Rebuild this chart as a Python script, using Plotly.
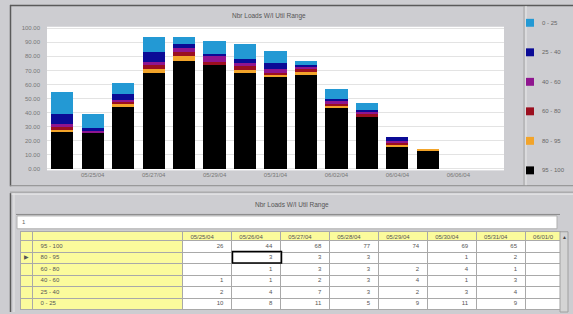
import plotly.graph_objects as go

W, H = 573, 314

# ---- data ----
dates = ["05/24/04", "05/25/04", "05/26/04", "05/27/04", "05/28/04", "05/29/04",
         "05/30/04", "05/31/04", "06/01/04", "06/02/04", "06/03/04", "06/04/04",
         "06/05/04", "06/06/04", "06/07/04"]
bar_dates = dates[:13]
tick_dates = ["05/25/04", "05/27/04", "05/29/04", "05/31/04", "06/02/04", "06/04/04", "06/06/04"]

r95_100 = [26, 26, 44, 68, 77, 74, 69, 65, 67, 43, 37, 16, 13]
r80_95 = [2, 0, 3, 3, 3, 0, 1, 2, 2, 2, 0, 1, 1]
r60_80 = [2, 0, 1, 3, 3, 2, 4, 1, 2, 1, 2, 2, 0]
r40_60 = [2, 1, 1, 2, 3, 4, 1, 3, 2, 2, 2, 1, 0]
r25_40 = [7, 2, 4, 7, 3, 2, 3, 4, 1, 2, 1, 3, 0]
r0_25 = [16, 10, 8, 11, 5, 9, 11, 9, 3, 7, 5, 0, 0]

range_labels = ["95 - 100", "80 - 95", "60 - 80", "40 - 60", "25 - 40", "0 - 25"]
range_colors = ["#000000", "#f2a42a", "#9b0f1f", "#8f158f", "#0b0b96", "#2399d4"]
range_values = [r95_100, r80_95, r60_80, r40_60, r25_40, r0_25]

title_text = "Nbr Loads W/I Util Range"
table_dates = dates[1:9]          # columns visible in the grid
table_header_labels = ["05/25/04", "05/26/04", "05/27/04", "05/28/04",
                       "05/29/04", "05/30/04", "05/31/04", "06/01/0"]

# ---- helpers ----
def px(x):
    return x / W

def py(y):
    return 1 - y / H

BG = "#cdcdd1"
YELLOW = "#fbfb9c"
GRID_LINE = "#a9a9a9"
CLEAR = "rgba(0,0,0,0)"

fig = go.Figure()

# stacked bars (bottom to top)
for name, vals, col in zip(range_labels, range_values, range_colors):
    fig.add_trace(go.Bar(
        x=bar_dates, y=vals, name=name,
        marker=dict(color=col, line=dict(width=0)),
        showlegend=False, hoverinfo="x+y+name",
    ))

# ---- table ----
n_rows = len(range_labels)
n_cols = 2 + len(table_dates)
sel_col = ["", "\u25b6", "", "", "", ""]
cols = [sel_col, range_labels]
for d in table_dates:
    i = dates.index(d)
    if d == "06/01/04":
        cols.append([""] * n_rows)   # scrolled out of view
    else:
        cols.append([("" if v[i] == 0 else str(v[i])) for v in range_values])

fills = [[YELLOW] * n_rows, [YELLOW] * n_rows] + [["white"] * n_rows] * len(table_dates)
colw = [12.6, 150, 49, 49, 49, 49, 49, 49, 49, 35]
tfont = dict(size=6, color="#555", family="Arial, Liberation Sans")

# grid (fills and lines)
fig.add_trace(go.Table(
    domain=dict(x=[px(20), px(560)], y=[0, py(233)]),
    columnwidth=colw,
    header=dict(values=[""] * n_cols, fill_color=YELLOW, line_color=GRID_LINE,
                line_width=1, font=tfont, height=9),
    cells=dict(values=[[""] * n_rows] * n_cols, fill_color=fills,
               line_color=GRID_LINE, line_width=1, font=tfont, height=11.5),
    hoverinfo="skip",
))
# text layer of the same grid
fig.add_trace(go.Table(
    domain=dict(x=[px(20), px(560)], y=[0, py(227.5)]),
    columnwidth=colw,
    header=dict(values=["", ""] + table_header_labels, fill_color=CLEAR,
                line_color=CLEAR, line_width=0, font=tfont, height=9, align="left"),
    cells=dict(values=cols, fill_color=CLEAR, line_color=CLEAR, line_width=0,
               font=tfont, height=11.5,
               align=["center", "left"] + ["right"] * len(table_dates)),
))

shapes = []
def line(x0, y0, x1, y1, color, width=1):
    shapes.append(dict(type="line", xref="paper", yref="paper",
                       x0=px(x0), y0=py(y0), x1=px(x1), y1=py(y1),
                       line=dict(color=color, width=width)))

def rect(x0, y0, x1, y1, fill, lc=None, lw=0, layer="above"):
    shapes.append(dict(type="rect", xref="paper", yref="paper",
                       x0=px(x0), y0=py(y0), x1=px(x1), y1=py(y1),
                       fillcolor=fill, layer=layer,
                       line=dict(color=lc or fill, width=lw)))

# top panel frame
line(10, 4.5, 573, 4.5, "#5a5a5a", 1.5)
line(10.5, 4, 10.5, 187, "#5a5a5a", 1.5)
line(10, 186.5, 573, 186.5, "#8c8c8c", 1)
line(524, 5, 524, 186, "#a4a4a4", 1)
line(526, 5, 526, 186, "#e8e8e8", 1)
# separator
line(10, 193, 573, 193, "#9a9a9a", 1)
line(10, 195, 573, 195, "#ececec", 1)
# table panel
line(10.5, 194, 10.5, 314, "#5a5a5a", 1.5)
line(14, 194, 14, 314, "#e8e8e8", 1)
line(16, 215.5, 560, 215.5, "#8a8a8a", 1)
rect(17, 217, 557, 230, "white", "#b0b0b0", 1)
# scrollbar
rect(560, 233, 568, 314, "#d4d4d4", "#a0a0a0", 1)
# selected cell
rect(232.5, 253, 281.5, 264.5, CLEAR, "#000000", 1.5)

annotations = [
    dict(text=title_text, x=px(269), y=py(15), xref="paper", yref="paper",
         showarrow=False, font=dict(size=6.5, color="#555"), xanchor="center", yanchor="middle"),
    dict(text=title_text, x=px(292), y=py(206), xref="paper", yref="paper",
         showarrow=False, font=dict(size=6.5, color="#555"), xanchor="center", yanchor="middle"),
    dict(text="1", x=px(20), y=py(223.5), xref="paper", yref="paper",
         showarrow=False, font=dict(size=6, color="#666"), xanchor="left", yanchor="middle"),
    dict(text="\u25b2", x=px(564), y=py(238), xref="paper", yref="paper",
         showarrow=False, font=dict(size=5, color="#444"), xanchor="center", yanchor="middle"),
]

# legend (top to bottom: 0-25 ... 95-100)
for k, (name, col) in enumerate(zip(range_labels[::-1], range_colors[::-1])):
    cy = 22 + k * 29.8
    rect(526, cy - 4, 534, cy + 4, col, col, 0)
    annotations.append(dict(text=name, x=px(540), y=py(cy), xref="paper", yref="paper",
                            showarrow=False, font=dict(size=6, color="#666"),
                            xanchor="left", yanchor="middle"))

fig.update_layout(
    width=W, height=H,
    margin=dict(l=0, r=0, t=0, b=0),
    paper_bgcolor=BG, plot_bgcolor="white",
    barmode="stack", bargap=0.27,
    showlegend=False,
    font=dict(family="Arial, Liberation Sans, sans-serif", color="#666"),
    xaxis=dict(
        domain=[px(47), px(504)], type="category",
        categoryorder="array", categoryarray=dates,
        range=[-0.5, len(dates) - 0.5],
        tickmode="array", tickvals=tick_dates, ticktext=tick_dates,
        tickfont=dict(size=6, color="#777"), showgrid=False, zeroline=False,
        showline=False, ticks="", tickangle=0,
    ),
    yaxis=dict(
        domain=[py(171), py(26)], range=[-1, 101], dtick=10, tick0=0,
        tickformat=".2f", tickfont=dict(size=6, color="#777"),
        gridcolor="#e3e3e3", gridwidth=1, zeroline=False, showline=False,
        ticks="", ticklabelstandoff=6,
    ),
    shapes=shapes, annotations=annotations,
)

fig.write_html("out.html",
               config={"displayModeBar": False},
               post_script="document.body.style.margin='0';document.body.style.overflow='hidden';")
